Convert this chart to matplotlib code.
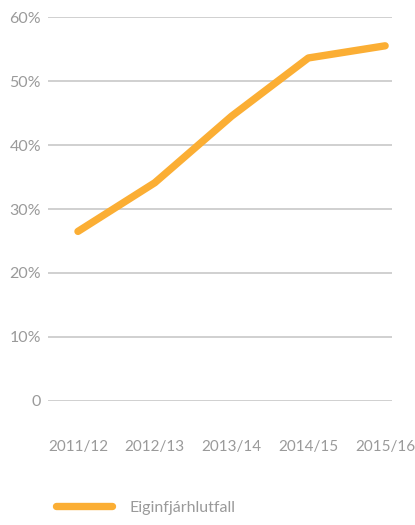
import matplotlib.pyplot as plt

# data
years = ['2011/12', '2012/13', '2013/14', '2014/15', '2015/16']
equity_ratio = [26.5, 34.1, 44.5, 53.6, 55.5]
yticks = [0, 10, 20, 30, 40, 50, 60]
ylabels = ['0', '10%', '20%', '30%', '40%', '50%', '60%']

plt.rcParams['font.family'] = ['Lato', 'DejaVu Sans']

fig = plt.figure(figsize=(4.15, 5.25), dpi=100)
ax = fig.add_axes([0.1157, 0.2362, 0.829, 0.7314])

x = range(len(years))
ax.plot(x, equity_ratio, color='#fbae34', lw=5.3, solid_capstyle='round',
        solid_joinstyle='round', label='Eiginfjárhlutfall', zorder=3)

ax.set_ylim(0, 60)
ax.set_xlim(-0.39, 4.09)
ax.set_yticks(yticks)
ax.set_yticklabels(ylabels)
ax.set_xticks(list(x))
ax.set_xticklabels(years)
ax.grid(axis='y', color='#c4c4c4', lw=1.1)
ax.set_axisbelow(True)
for s in ax.spines.values():
    s.set_visible(False)
ax.tick_params(length=0, colors='#9a9a9a', labelsize=11.5)
ax.tick_params(axis='y', pad=5)
ax.tick_params(axis='x', labelsize=11, pad=28)

leg = ax.legend(loc='lower left', bbox_to_anchor=(0.1, -0.008),
                bbox_transform=fig.transFigure, frameon=False,
                handlelength=3.5, handletextpad=1.1, fontsize=11.5)
for t in leg.get_texts():
    t.set_color('#9a9a9a')

fig.savefig('out.png', dpi=100)
